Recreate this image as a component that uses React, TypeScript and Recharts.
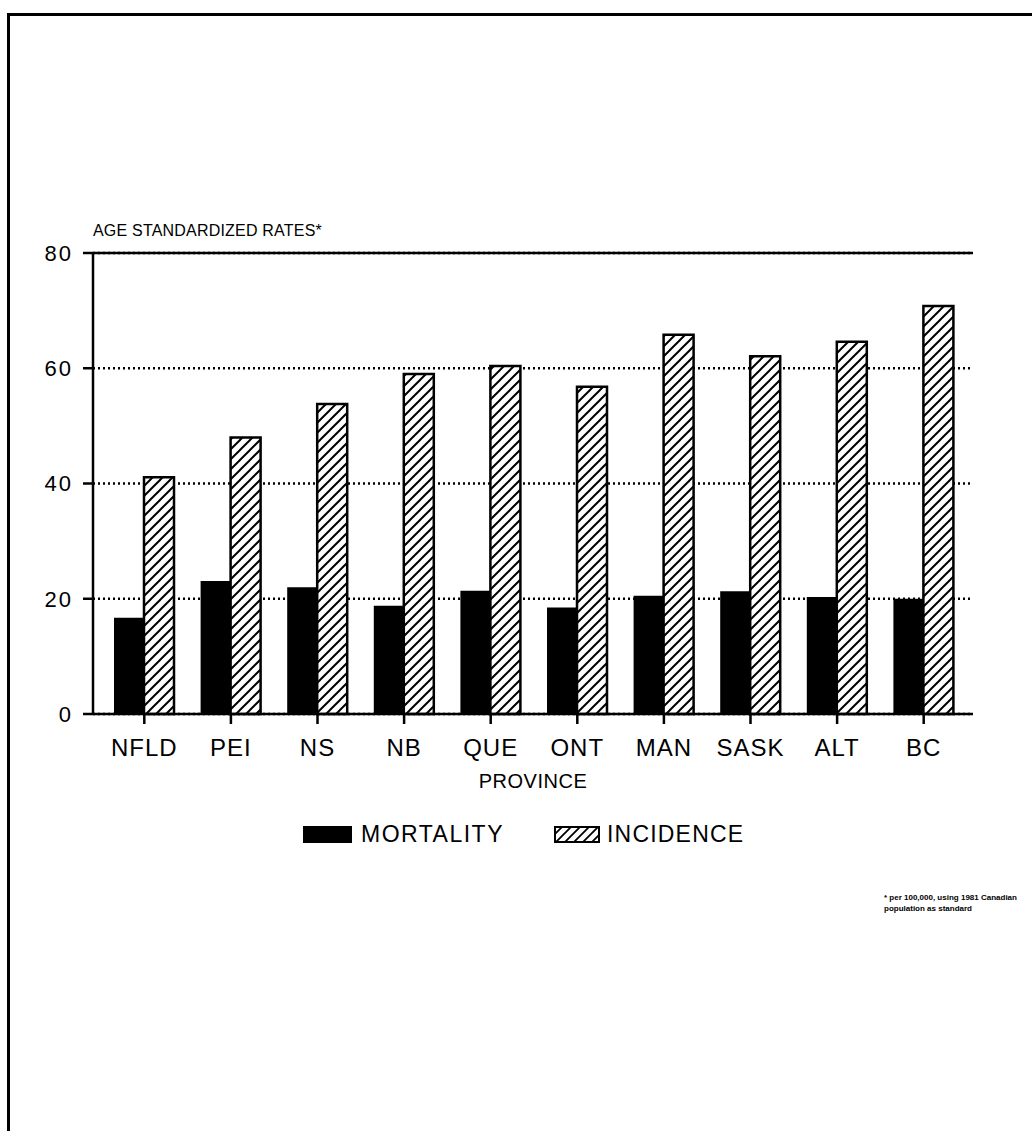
import React from "react"
import {
  BarChart,
  Bar,
  XAxis,
  YAxis,
  CartesianGrid,
  ReferenceLine,
} from "recharts"

const provinces = ["NFLD", "PEI", "NS", "NB", "QUE", "ONT", "MAN", "SASK", "ALT", "BC"]
const mortality = [16.7, 23.1, 22.0, 18.8, 21.4, 18.5, 20.5, 21.3, 20.3, 20.0]
const incidence = [41.1, 48.0, 53.8, 59.0, 60.4, 56.8, 65.8, 62.1, 64.6, 70.8]
const yTicks = [0, 20, 40, 60, 80]

const seriesNames = ["MORTALITY", "INCIDENCE"]

const FONT = "'Liberation Sans', Arial, Helvetica, sans-serif"

const chartData = provinces.map((p, i) => ({
  province: p,
  mortality: mortality[i],
  incidence: incidence[i],
}))

function Swatch({ hatched, width }: { hatched: boolean; width: number }) {
  return (
    <svg width={width} height={17} style={{ display: "block" }}>
      <defs>
        <pattern id={"legHatch"} patternUnits="userSpaceOnUse" width="9" height="9">
          <rect width="9" height="9" fill="#fff" />
          <path d="M-1,10 L10,-1 M-3,3 L3,-3 M6,12 L12,6" stroke="#000" strokeWidth="1.8" />
        </pattern>
      </defs>
      {hatched ? (
        <rect x={1} y={1} width={width - 2} height={15} fill="url(#legHatch)" stroke="#000" strokeWidth={2} />
      ) : (
        <rect x={0} y={0} width={width} height={17} fill="#000" />
      )}
    </svg>
  )
}

export default function App() {
  return (
    <div
      style={{
        position: "absolute",
        left: 0,
        top: 0,
        width: 1032,
        height: 1131,
        overflow: "hidden",
        background: "#fff",
        fontFamily: FONT,
      }}
    >
      {/* page frame from the scan */}
      <div
        style={{
          position: "absolute",
          left: 7,
          top: 13,
          width: 1100,
          height: 1200,
          borderTop: "3px solid #000",
          borderLeft: "3px solid #000",
        }}
      />

      <div
        style={{
          position: "absolute",
          left: 93,
          top: 222,
          fontSize: 16,
          color: "#000",
          letterSpacing: 0.2,
        }}
      >
        AGE STANDARDIZED RATES*
      </div>

      <div style={{ position: "absolute", left: 0, top: 0 }}>
        <BarChart
          width={1032}
          height={1131}
          data={chartData}
          margin={{ top: 253, right: 59, left: 33, bottom: 341 }}
          barGap={0}
          barSize={30}
        >
          <defs>
            <pattern id="hatch" patternUnits="userSpaceOnUse" width="10" height="10">
              <rect width="10" height="10" fill="#fff" />
              <path d="M-1,11 L11,-1 M-3,3 L3,-3 M7,13 L13,7" stroke="#000" strokeWidth="2" />
            </pattern>
          </defs>
          <CartesianGrid
            vertical={false}
            stroke="#000"
            strokeWidth={2.5}
            strokeDasharray="2 3"
          />
          <XAxis
            dataKey="province"
            interval={0}
            height={76}
            padding={{ left: 8, right: 6 }}
            axisLine={{ stroke: "#000", strokeWidth: 2.5 }}
            tickLine={{ stroke: "#000", strokeWidth: 2.5 }}
            tickSize={10}
            tickMargin={15}
            tick={{ fill: "#000", fontSize: 24, fontFamily: FONT, letterSpacing: 1 }}
            label={{
              value: "PROVINCE",
              position: "insideBottom",
              offset: 2,
              style: { fill: "#000", fontSize: 20, fontFamily: FONT, letterSpacing: 0.5 },
            }}
          />
          <YAxis
            domain={[0, 80]}
            ticks={yTicks}
            width={60}
            axisLine={{ stroke: "#000", strokeWidth: 2.5 }}
            tickLine={{ stroke: "#000", strokeWidth: 2.5 }}
            tickSize={10}
            tickMargin={10}
            tick={{ fill: "#000", fontSize: 22, fontFamily: FONT, letterSpacing: 2 }}
          />
          <YAxis
            yAxisId="frame"
            orientation="right"
            width={0}
            tick={false}
            tickLine={false}
            axisLine={{ stroke: "#000", strokeWidth: 2.5 }}
          />
          <ReferenceLine y={80} stroke="#000" strokeWidth={2.5} />
          <Bar
            dataKey="mortality"
            name={seriesNames[0]}
            fill="#000"
            isAnimationActive={false}
          />
          <Bar
            dataKey="incidence"
            name={seriesNames[1]}
            fill="url(#hatch)"
            stroke="#000"
            strokeWidth={2.5}
            isAnimationActive={false}
          />
        </BarChart>
      </div>

      {/* legend */}
      <div style={{ position: "absolute", left: 303, top: 826 }}>
        <Swatch hatched={false} width={49} />
      </div>
      <div style={{ position: "absolute", left: 361, top: 821, fontSize: 23, letterSpacing: 1.5, lineHeight: "26px" }}>
        {seriesNames[0]}
      </div>
      <div style={{ position: "absolute", left: 554, top: 826 }}>
        <Swatch hatched={true} width={46} />
      </div>
      <div style={{ position: "absolute", left: 607, top: 821, fontSize: 23, letterSpacing: 1.2, lineHeight: "26px" }}>
        {seriesNames[1]}
      </div>

      {/* footnote */}
      <div
        style={{
          position: "absolute",
          left: 884,
          top: 892,
          fontSize: 8,
          fontWeight: 700,
          lineHeight: "11px",
          whiteSpace: "nowrap",
        }}
      >
        * per 100,000, using 1981 Canadian
        <br />
        population as standard
      </div>
    </div>
  )
}
